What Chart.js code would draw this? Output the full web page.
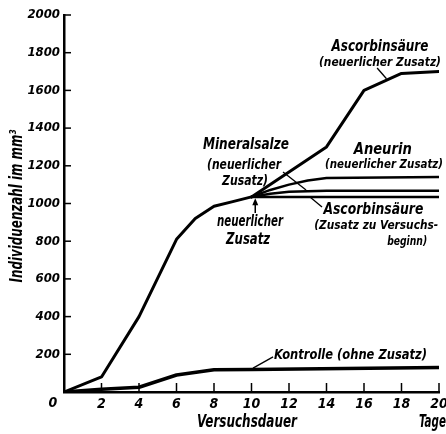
<!DOCTYPE html>
<html>
<head>
<meta charset="utf-8">
<script src="https://cdn.jsdelivr.net/npm/chart.js@4/dist/chart.umd.min.js"></script>
<style>
  html, body { margin: 0; padding: 0; background: #fff; }
  #wrap { width: 446px; height: 434px; }
</style>
</head>
<body>
<div id="wrap"><canvas id="chart" width="446" height="434"></canvas></div>
<script>
// values (days, individuals per mm3)
const mainDays = [0, 2, 4, 6, 7, 8, 9, 10];
const mainValues = [0, 80, 400, 810, 920, 985, 1010, 1035];

const ascorbinNewDays = [10, 14, 16, 18, 20];
const ascorbinNewValues = [1035, 1300, 1600, 1690, 1700];

const aneurinDays = [10, 11, 12, 13, 14, 20];
const aneurinValues = [1035, 1072, 1100, 1122, 1135, 1140];

const mineralDays = [10, 11, 12, 14, 20];
const mineralValues = [1035, 1052, 1062, 1067, 1068];

const ascorbinStartDays = [10, 20];
const ascorbinStartValues = [1035, 1035];

const controlDays = [0, 2, 4, 6, 8, 10, 20];
const controlValues = [0, 15, 25, 90, 118, 120, 130];

const yTicks = [0, 200, 400, 600, 800, 1000, 1200, 1400, 1600, 1800, 2000];
const xTicks = [0, 2, 4, 6, 8, 10, 12, 14, 16, 18, 20];

const FONT = "'DejaVu Sans Condensed', 'Liberation Sans Narrow', sans-serif";

function points(xs, ys) {
  return xs.map((x, i) => ({ x: x, y: ys[i] }));
}

function line(data, width) {
  return {
    data: data,
    borderColor: '#000',
    borderWidth: width,
    pointRadius: 0,
    fill: false,
    tension: 0,
    borderJoinStyle: 'round',
    borderCapStyle: 'round'
  };
}

// labels and leader lines, placed in data units; w = squeezed width in px
const labels = [
  { x: 16.85, y: 1830, text: 'Ascorbinsäure', size: 16, w: 97, align: 'center' },
  { x: 16.85, y: 1750, text: '(neuerlicher Zusatz)', size: 13, w: 122, align: 'center' },
  { x: 7.41, y: 1310, text: 'Mineralsalze', size: 16, w: 86, align: 'left' },
  { x: 7.63, y: 1204, text: '(neuerlicher', size: 14, w: 74, align: 'left' },
  { x: 8.43, y: 1119, text: 'Zusatz)', size: 14, w: 46, align: 'left' },
  { x: 9.92, y: 902, text: 'neuerlicher', size: 15, w: 66, align: 'center' },
  { x: 9.82, y: 806, text: 'Zusatz', size: 15, w: 44, align: 'center' },
  { x: 17.0, y: 1284, text: 'Aneurin', size: 16, w: 58, align: 'center' },
  { x: 17.07, y: 1204, text: '(neuerlicher Zusatz)', size: 13, w: 118, align: 'center' },
  { x: 16.5, y: 966, text: 'Ascorbinsäure', size: 16, w: 100, align: 'center' },
  { x: 16.65, y: 881, text: '(Zusatz zu Versuchs-', size: 13, w: 124, align: 'center' },
  { x: 18.3, y: 796, text: 'beginn)', size: 13, w: 40, align: 'center' },
  { x: 11.2, y: 196, text: 'Kontrolle (ohne Zusatz)', size: 14, w: 153, align: 'left' },
  { x: 9.76, y: -164, text: 'Versuchsdauer', size: 17, w: 100, align: 'center' },
  { x: 20.37, y: -164, text: 'Tage', size: 17, w: 27, align: 'right' },
  { x: -0.59, y: -58, text: '0', size: 14, w: 10, align: 'center' }
];

const yTitle = { x: -2.45, y: 987, text: 'Individuenzahl im mm³', size: 17, w: 153 };

const leaders = [
  [16.7, 1719, 17.2, 1662],
  [11.68, 1167, 12.91, 1072],
  [13.12, 1034, 13.76, 981],
  [11.15, 186, 10.08, 127]
];

const decorations = {
  id: 'decorations',
  afterDraw(chart) {
    const ctx = chart.ctx;
    const xs = chart.scales.x;
    const ys = chart.scales.y;
    const area = chart.chartArea;
    ctx.save();
    ctx.strokeStyle = '#000';
    ctx.fillStyle = '#000';

    // inward tick marks
    ctx.lineWidth = 1.5;
    ys.ticks.forEach(t => {
      if (t.value === 0) return;
      const py = ys.getPixelForValue(t.value);
      ctx.beginPath();
      ctx.moveTo(area.left, py);
      ctx.lineTo(area.left + 7, py);
      ctx.stroke();
    });
    xs.ticks.forEach(t => {
      if (t.value === 0) return;
      const px = xs.getPixelForValue(t.value);
      ctx.beginPath();
      ctx.moveTo(px, area.bottom);
      ctx.lineTo(px, area.bottom - 9);
      ctx.stroke();
    });

    // leader lines
    ctx.lineWidth = 1.3;
    leaders.forEach(l => {
      ctx.beginPath();
      ctx.moveTo(xs.getPixelForValue(l[0]), ys.getPixelForValue(l[1]));
      ctx.lineTo(xs.getPixelForValue(l[2]), ys.getPixelForValue(l[3]));
      ctx.stroke();
    });

    // arrow "neuerlicher Zusatz"
    const ax = xs.getPixelForValue(10.2);
    const ay0 = ys.getPixelForValue(950);
    const ay1 = ys.getPixelForValue(1028);
    ctx.lineWidth = 1.5;
    ctx.beginPath();
    ctx.moveTo(ax, ay0);
    ctx.lineTo(ax, ay1 + 4);
    ctx.stroke();
    ctx.beginPath();
    ctx.moveTo(ax, ay1);
    ctx.lineTo(ax - 3, ay1 + 7);
    ctx.lineTo(ax + 3, ay1 + 7);
    ctx.closePath();
    ctx.fill();

    // labels
    ctx.textBaseline = 'middle';
    labels.forEach(l => {
      ctx.font = 'italic bold ' + l.size + 'px ' + FONT;
      ctx.textAlign = l.align;
      ctx.fillText(l.text, xs.getPixelForValue(l.x), ys.getPixelForValue(l.y), l.w);
    });

    // rotated y axis title
    ctx.translate(xs.getPixelForValue(yTitle.x), ys.getPixelForValue(yTitle.y));
    ctx.rotate(-Math.PI / 2);
    ctx.textAlign = 'center';
    ctx.font = 'italic bold ' + yTitle.size + 'px ' + FONT;
    ctx.fillText(yTitle.text, 0, 0, yTitle.w);
    ctx.restore();
  }
};

new Chart(document.getElementById('chart'), {
  type: 'line',
  data: {
    datasets: [
      line(points(mainDays, mainValues), 3),
      line(points(ascorbinNewDays, ascorbinNewValues), 3),
      line(points(aneurinDays, aneurinValues), 2.5),
      line(points(mineralDays, mineralValues), 2.5),
      line(points(ascorbinStartDays, ascorbinStartValues), 2.5),
      line(points(controlDays, controlValues), 3.5)
    ]
  },
  options: {
    responsive: false,
    animation: false,
    layout: { padding: { top: 15, right: 0, left: 0, bottom: 0 } },
    plugins: {
      legend: { display: false },
      tooltip: { enabled: false }
    },
    scales: {
      x: {
        type: 'linear',
        min: 0,
        max: 20,
        afterBuildTicks: s => { s.ticks = xTicks.map(v => ({ value: v })); },
        afterFit: s => { s.height = 42; s.paddingLeft = 0; s.paddingRight = 7; },
        grid: { display: false, drawTicks: false },
        border: { color: '#000', width: 2.5 },
        ticks: {
          padding: 4,
          color: '#000',
          font: { family: FONT, size: 14, style: 'italic', weight: 'bold' },
          callback: v => (v === 0 ? '' : v)
        }
      },
      y: {
        min: 0,
        max: 2000,
        afterBuildTicks: s => { s.ticks = yTicks.map(v => ({ value: v })); },
        afterFit: s => { s.width = 64; },
        grid: { display: false, drawTicks: false },
        border: { color: '#000', width: 2.5 },
        ticks: {
          padding: 4,
          color: '#000',
          font: { family: FONT, size: 13, style: 'italic', weight: 'bold' },
          callback: v => (v === 0 ? '' : v)
        }
      }
    }
  },
  plugins: [decorations]
});
</script>
</body>
</html>
